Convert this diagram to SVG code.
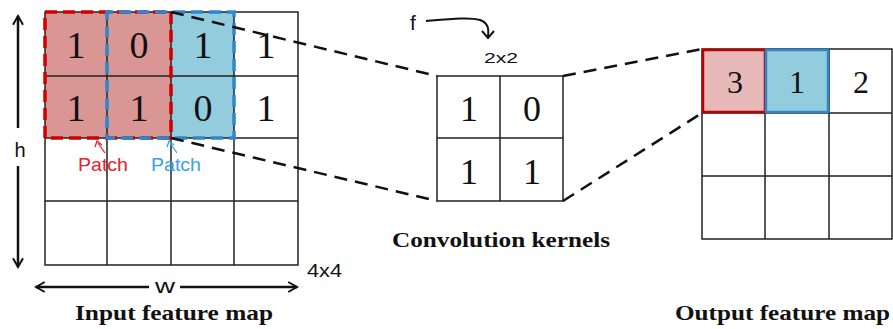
<svg xmlns="http://www.w3.org/2000/svg" width="893" height="329" viewBox="0 0 893 329">
<defs>
<style>
.grid{fill:none;stroke:#222;stroke-width:1.5}
.dig{font-family:"Liberation Serif","Times New Roman",serif;fill:#111;text-anchor:middle}
.cap{font-family:"Liberation Serif","Times New Roman",serif;font-weight:bold;font-size:21px;fill:#111}
.sans{font-family:"Liberation Sans",Arial,sans-serif;fill:#111}
.conn{fill:none;stroke:#111;stroke-width:2.5;stroke-dasharray:13 8}
.arr{fill:none;stroke:#111;stroke-width:2.5}
</style>
<marker id="chev" viewBox="0 0 10 10" refX="8" refY="5" markerWidth="5" markerHeight="5" orient="auto-start-reverse" markerUnits="strokeWidth">
<path d="M1,1 L8,5 L1,9" fill="none" stroke="#111" stroke-width="1.6"/>
</marker>
</defs>
<rect width="893" height="329" fill="#fff"/>

<g id="input-map">
<rect x="45" y="12" width="126" height="126" fill="#d99694"/>
<rect x="171" y="12" width="63" height="126" fill="#93cddd"/>
<path class="grid" d="M45,12H298V265H45Z M107,12V265 M171,12V265 M234,12V265 M45,76H298 M45,138H298 M45,201H298"/>
<rect x="45" y="12" width="126" height="126" fill="none" stroke="#d00000" stroke-width="3.5" stroke-dasharray="12 6"/>
<rect x="107" y="12" width="127" height="126" fill="none" stroke="#2e86d0" stroke-width="3.5" stroke-dasharray="12 6" stroke-dashoffset="6"/>
<g class="dig" font-size="38">
<text x="76" y="58">1</text><text x="139" y="58">0</text><text x="203" y="58">1</text><text x="266" y="58">1</text>
<text x="76" y="121">1</text><text x="139" y="121">1</text><text x="203" y="121">0</text><text x="266" y="121">1</text>
</g>
<text x="78" y="171" font-family="Liberation Sans,Arial,sans-serif" font-size="19" fill="#e8212b" textLength="50" lengthAdjust="spacingAndGlyphs">Patch</text>
<text x="151" y="171" font-family="Liberation Sans,Arial,sans-serif" font-size="19" fill="#3a9ee8" textLength="50" lengthAdjust="spacingAndGlyphs">Patch</text>
<path d="M105,153 L98,143" stroke="#e8212b" stroke-width="1.3" fill="none"/>
<path d="M95,147 L97,141 L102,145" stroke="#e8212b" stroke-width="1.3" fill="none"/>
<path d="M177,153 L170,143" stroke="#3a9ee8" stroke-width="1.3" fill="none"/>
<path d="M167,147 L169,141 L174,145" stroke="#3a9ee8" stroke-width="1.3" fill="none"/>
<path class="arr" d="M18,128V16" marker-end="url(#chev)"/>
<path class="arr" d="M18,166V267" marker-end="url(#chev)"/>
<text class="sans" x="20" y="157" font-size="20" text-anchor="middle">h</text>
<path class="arr" d="M149,287H36" marker-end="url(#chev)"/>
<path class="arr" d="M180,287H297" marker-end="url(#chev)"/>
<text class="sans" x="155" y="293" font-size="20" textLength="20" lengthAdjust="spacingAndGlyphs">w</text>
<text class="sans" x="307" y="277" font-size="19" textLength="35" lengthAdjust="spacingAndGlyphs">4x4</text>
<text class="cap" x="75" y="320" textLength="198" lengthAdjust="spacingAndGlyphs">Input feature map</text>
</g>

<g id="kernel">
<path class="grid" d="M437,76H563V201H437Z M500,76V201 M437,138H563"/>
<g class="dig" font-size="36">
<text x="469" y="121">1</text><text x="532" y="121">0</text>
<text x="469" y="184">1</text><text x="532" y="184">1</text>
</g>
<text class="sans" x="413" y="30" font-size="21" text-anchor="middle">f</text>
<path d="M426,21 C450,19 470,17 480,20 C488,23 489,28 488,37" fill="none" stroke="#111" stroke-width="2"/>
<path d="M482,31 L488,38 L494,31" fill="none" stroke="#111" stroke-width="2"/>
<text class="sans" x="484" y="63" font-size="15" textLength="34" lengthAdjust="spacingAndGlyphs">2x2</text>
<text class="cap" x="392" y="247" textLength="218" lengthAdjust="spacingAndGlyphs">Convolution kernels</text>
</g>

<g id="output-map">
<rect x="702" y="49" width="63" height="64" fill="#e6b9b8"/>
<rect x="765" y="49" width="64" height="64" fill="#93cddd"/>
<path class="grid" d="M702,49H892V239H702Z M765,49V239 M829,49V239 M702,113H892 M702,176H892"/>
<rect x="703" y="50" width="62" height="62" fill="none" stroke="#c00000" stroke-width="2.5"/>
<rect x="766" y="50" width="62" height="62" fill="none" stroke="#2e86d0" stroke-width="2.5"/>
<g class="dig" font-size="32">
<text x="735" y="93">3</text><text x="797" y="93">1</text><text x="861" y="93">2</text>
</g>
<text class="cap" x="675" y="320" textLength="215" lengthAdjust="spacingAndGlyphs">Output feature map</text>
</g>

<g id="connectors">
<path class="conn" d="M171,12 L437,76"/>
<path class="conn" d="M171,138 L437,201"/>
<path class="conn" d="M563,76 L702,49"/>
<path class="conn" d="M563,201 L702,113"/>
</g>
</svg>
